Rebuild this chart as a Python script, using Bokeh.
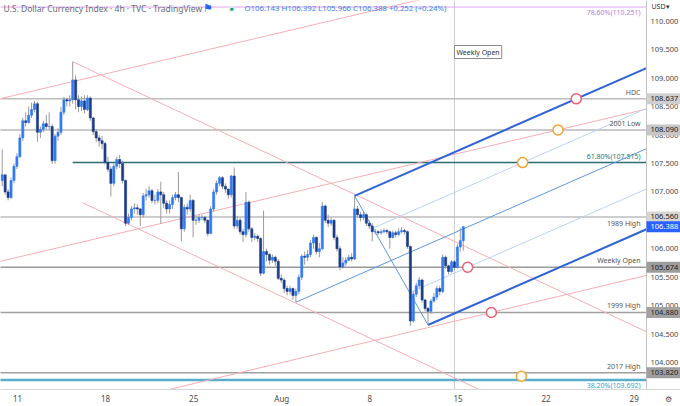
import numpy as np
from bokeh.plotting import figure
from bokeh.models import ColumnDataSource, Range1d, FixedTicker, Label, NumeralTickFormatter
from bokeh.embed import file_html
from bokeh.resources import INLINE
from bokeh.core.properties import value

# ---------------- data ----------------
first_open = 107.20
closes = [107.30, 107.00, 106.90, 107.20, 107.45, 107.62, 107.95, 108.25, 108.22, 108.35,
          108.45, 108.55, 108.05, 108.10, 108.20, 108.15, 108.15, 107.55, 107.98, 108.05,
          108.40, 108.62, 108.60, 108.62, 108.97, 108.62, 108.50, 108.60, 108.45, 108.65,
          108.30, 108.06, 107.95, 107.90, 107.85, 107.52, 107.40, 107.15, 107.45, 107.57,
          107.50, 107.20, 106.45, 106.55, 106.70, 106.72, 106.70, 106.60, 106.93, 106.95,
          107.02, 106.85, 106.85, 107.00, 106.95, 106.80, 106.70, 106.78, 106.90, 106.95,
          106.90, 106.35, 106.73, 106.70, 106.85, 106.50, 106.50, 106.55, 106.55, 106.50,
          106.27, 106.70, 107.00, 107.15, 107.25, 107.10, 107.05, 106.95, 107.28, 106.40,
          106.50, 106.30, 106.25, 106.82, 106.35, 106.20, 106.22, 106.18, 105.57, 105.95,
          105.90, 105.80, 105.85, 105.78, 105.48, 105.45, 105.30, 105.25, 105.30, 105.18,
          105.25, 105.50, 105.87, 105.85, 105.90, 106.10, 106.20, 105.95, 106.00, 106.75,
          106.50, 106.45, 106.50, 106.20, 106.00, 105.68, 105.75, 105.80, 105.85, 105.82,
          106.70, 106.60, 106.55, 106.60, 106.45, 106.40, 106.30, 106.30, 106.28, 106.30,
          106.32, 106.30, 106.20, 106.28, 106.25, 106.30, 106.32, 106.30, 106.04, 104.73,
          105.20, 105.35, 105.45, 105.10, 104.95, 104.90, 105.08, 105.15, 105.30, 105.25,
          105.85, 105.70, 105.60, 105.77, 105.674, 106.03, 106.143, 106.388]
highs = [107.75, 107.30, 107.05, 107.25, 107.50, 107.68, 108.02, 108.30, 108.40, 108.50,
         108.57, 108.60, 108.58, 108.15, 108.25, 108.35, 108.40, 108.20, 108.02, 108.12,
         108.50, 108.67, 108.66, 108.70, 109.29, 109.05, 108.70, 108.68, 108.70, 108.70,
         108.68, 108.32, 108.10, 108.00, 107.98, 107.88, 107.62, 107.45, 107.50, 107.62,
         107.65, 107.55, 107.22, 106.62, 106.75, 106.80, 106.78, 106.72, 106.98, 107.05,
         107.10, 107.05, 106.95, 107.05, 107.18, 107.00, 106.85, 106.85, 106.95, 107.00,
         107.35, 106.92, 106.78, 106.80, 106.95, 106.88, 106.58, 106.60, 106.60, 106.58,
         106.52, 106.75, 107.05, 107.20, 107.28, 107.28, 107.15, 107.05, 107.30, 107.43,
         106.58, 106.55, 106.35, 107.00, 106.85, 106.38, 106.28, 106.25, 106.20, 106.67,
         106.00, 105.92, 105.90, 105.88, 105.82, 105.55, 105.48, 105.35, 105.35, 105.32,
         105.30, 105.55, 105.90, 105.95, 105.98, 106.15, 106.25, 106.22, 106.10, 106.82,
         106.78, 106.60, 106.55, 106.52, 106.25, 106.05, 105.85, 105.85, 105.90, 105.92,
         106.93, 106.75, 106.65, 106.65, 106.62, 106.50, 106.45, 106.35, 106.33, 106.34,
         106.36, 106.35, 106.32, 106.32, 106.32, 106.36, 106.38, 106.35, 106.32, 106.06,
         105.25, 105.40, 105.50, 105.48, 105.12, 104.98, 105.12, 105.22, 105.35, 105.35,
         105.90, 105.88, 105.72, 105.80, 105.80, 106.08, 106.37, 106.392]
lows = [107.10, 106.95, 106.85, 106.88, 107.15, 107.40, 107.60, 107.90, 108.15, 108.20,
        108.30, 108.40, 107.88, 107.95, 108.05, 108.10, 108.10, 107.49, 107.50, 107.90,
        108.00, 108.35, 108.50, 108.50, 108.55, 108.45, 108.40, 108.42, 108.38, 108.42,
        108.25, 108.00, 107.87, 107.80, 107.75, 107.48, 107.35, 106.92, 107.10, 107.40,
        107.42, 107.15, 106.40, 106.42, 106.50, 106.62, 106.60, 106.40, 106.55, 106.85,
        106.90, 106.80, 106.78, 106.80, 106.44, 106.72, 106.62, 106.62, 106.70, 106.85,
        106.82, 106.13, 106.30, 106.60, 106.65, 106.20, 106.42, 106.45, 106.50, 106.45,
        106.22, 106.25, 106.65, 106.95, 107.10, 107.05, 106.98, 106.88, 106.90, 106.35,
        106.35, 106.25, 106.12, 106.20, 106.30, 106.12, 106.15, 106.12, 105.52, 105.55,
        105.78, 105.72, 105.75, 105.70, 105.45, 105.40, 105.22, 105.18, 105.20, 105.10,
        105.06, 105.20, 105.45, 105.72, 105.78, 105.85, 106.00, 105.90, 105.85, 105.98,
        106.45, 106.38, 106.40, 106.15, 105.95, 105.62, 105.65, 105.70, 105.78, 105.78,
        105.80, 106.55, 106.48, 106.50, 106.40, 106.35, 106.13, 106.25, 106.24, 106.25,
        106.27, 106.26, 106.00, 106.18, 106.20, 106.22, 106.27, 106.25, 106.00, 104.64,
        104.70, 105.15, 105.30, 105.05, 104.90, 104.66, 104.85, 105.05, 105.10, 105.18,
        105.22, 105.65, 105.55, 105.58, 105.62, 105.65, 105.95, 105.966]

first_bar_day = -0.867      # trading-day index of the first bar (Jul 11 = day 0)
bars_per_day = 6

day_ticks = [0, 5, 10, 15, 20, 25, 30, 35]
day_labels = ["11", "18", "25", "Aug", "8", "15", "22", "29"]
price_ticks = [104.0, 104.5, 105.0, 105.5, 106.0, 106.5, 107.0, 107.5, 108.0, 108.5, 109.0, 109.5, 110.0]

level_names = ["HDC", "2001 Low", "1989 High", "Weekly Open", "1999 High", "2017 High"]
level_values = [108.637, 108.090, 106.560, 105.674, 104.880, 103.820]
level_colors = ["#bdbdbd", "#b8b8b8", "#bdbdbd", "#9a9a9a", "#a0a0a0", "#a0a0a0"]
level_below = [False, False, True, False, False, False]

fib_names = ["78.60%(110.251)", "61.80%(107.515)", "38.20%(103.692)"]
fib_values = [110.251, 107.515, 103.692]
fib_line_colors = ["#dfa6ec", "#2e6e72", "#5aaecb"]
fib_text_colors = ["#c27bd6", "#2b7479", "#3aa0c8"]
fib_below = [True, False, True]

box_values = [108.637, 108.090, 106.560, 106.388, 105.674, 104.880, 103.820]
box_fill = ["#d0d0d0", "#c6c6c6", "#d6d6d6", "#2962ff", "#9c9c9c", "#a2a2a2", "#9e9e9e"]
box_text = ["#222222", "#222222", "#222222", "#ffffff", "#222222", "#222222", "#222222"]

fork_bars = [100, 120, 145]                  # handle, B, C pivots
fork_prices = [105.06, 106.93, 104.66]

pink_lines_x = [(-0.965, 21.74), (-0.965, 22.87), (9.08, 25.14), (3.133, 25.14), (3.69, 25.14)]
pink_lines_y = [(108.64, 110.30), (105.78, 107.52), (103.56, 104.75), (109.29, 106.08), (106.81, 103.68)]
pink_extend_left = [True, True, True, False, False]

weekly_open_bar = 154
extra_circle_x = [28.60]
extra_circle_y = [103.76]

header = "U.S. Dollar Currency Index \u00b7 4h \u00b7 TVC \u00b7 TradingView"
ohlc_text = "O106.143 H106.392 L105.966 C106.388 +0.252 (+0.24%)"

# ---------------- figure ----------------
W, H = 680, 406
FH = 392.0
X0, X1 = -0.965, 35.70            # plotting area (price scale starts at X1)
dx = (X1 - X0) / 646.0
XE = X1 + 34 * dx                 # right end including price scale strip
Y0, Y1 = 103.525, 110.366
dy = (Y1 - Y0) / FH
FONT = "Noto Sans"

p = figure(width=W, height=H, x_range=Range1d(X0, XE), y_range=Range1d(Y0, Y1),
           output_backend="svg", toolbar_location=None, y_axis_location="right",
           min_border=0, min_border_left=0, min_border_top=0, min_border_right=0, min_border_bottom=14)
p.grid.visible = False
p.outline_line_color = None
p.background_fill_color = "white"
p.border_fill_color = "white"

ya = p.yaxis[0]
ya.fixed_location = X1
ya.ticker = FixedTicker(ticks=price_ticks)
ya.formatter = NumeralTickFormatter(format="0.000")
ya.major_tick_line_color = None
ya.minor_tick_line_color = None
ya.major_tick_out = 0
ya.major_tick_in = 0
ya.minor_tick_out = 0
ya.minor_tick_in = 0
ya.axis_line_color = "#c4c4c4"
ya.major_label_standoff = 4
ya.major_label_text_font_size = "7.5px"
ya.major_label_text_font = FONT
ya.major_label_text_color = "#4a4a4a"

gear_tick = X1 + 22 * dx
xa = p.xaxis[0]
xa.ticker = FixedTicker(ticks=day_ticks + [gear_tick])
overrides = {t: l for t, l in zip(day_ticks, day_labels)}
overrides[gear_tick] = "\u2699"
xa.major_label_overrides = overrides
xa.major_tick_line_color = None
xa.minor_tick_line_color = None
xa.major_tick_out = 0
xa.major_tick_in = 0
xa.minor_tick_out = 0
xa.minor_tick_in = 0
xa.axis_line_color = "#d6d6d6"
xa.major_label_standoff = 3
xa.major_label_text_font_size = "8px"
xa.major_label_text_font = FONT
xa.major_label_text_color = "#4a4a4a"

XR = X1

# weekly open vertical line
bar_x = first_bar_day + np.arange(len(closes)) / bars_per_day
wk_x = bar_x[weekly_open_bar]
p.segment(x0=[wk_x], y0=[Y0 - 1], x1=[wk_x], y1=[Y1 + 1], line_color="#cfcfcf", line_width=1)

# fib lines
fib_x0 = [X0 - 1, bar_x[24], X0 - 1]
fib_widths = [1, 1.5, 2.5]
for fx_, fv, fc, fw in zip(fib_x0, fib_values, fib_line_colors, fib_widths):
    p.line([fx_, XR], [fv, fv], line_color=fc, line_width=fw)

# horizontal levels
for lv, lc in zip(level_values, level_colors):
    p.line([X0 - 1, XR], [lv, lv], line_color=lc, line_width=1.5)

# pink trend channel lines
for (xa_, xb_), (ya_, yb_), ext in zip(pink_lines_x, pink_lines_y, pink_extend_left):
    s = (yb_ - ya_) / (xb_ - xa_)
    xs = X0 - 2 if ext else xa_
    p.line([xs, XR], [ya_ + s * (xs - xa_), ya_ + s * (XR - xa_)], line_color="#f7aeb4", line_width=1)

# pitchfork
fx = [bar_x[b] for b in fork_bars]
A = (fx[0], fork_prices[0]); B = (fx[1], fork_prices[1]); C = (fx[2], fork_prices[2])
M = ((B[0] + C[0]) / 2, (B[1] + C[1]) / 2)
slope = (M[1] - A[1]) / (M[0] - A[0])
UM = ((B[0] + M[0]) / 2, (B[1] + M[1]) / 2)
LM = ((M[0] + C[0]) / 2, (M[1] + C[1]) / 2)

def ray(pt):
    return [pt[0], XR], [pt[1], pt[1] + slope * (XR - pt[0])]

for pt in (UM, LM):
    xs, ys = ray(pt)
    p.line(xs, ys, line_color="#b9d4f6", line_width=1)
xs, ys = ray(A)
p.line(xs, ys, line_color="#5d97df", line_width=1)
p.line([B[0], C[0]], [B[1], C[1]], line_color="#5d97df", line_width=1)
for pt in (B, C):
    xs, ys = ray(pt)
    p.line(xs, ys, line_color="#2f64d6", line_width=2)

# candles
opens = [first_open] + closes[:-1]
o = np.array(opens); c = np.array(closes)
up = c >= o
src = ColumnDataSource(dict(x=bar_x, o=o, c=c, h=np.array(highs), l=np.array(lows),
                            top=np.maximum(o, c), bot=np.minimum(o, c),
                            col=np.where(up, "#2f7bf5", "#1d3c88")))
p.segment(x0="x", y0="h", x1="x", y1="l", source=src, line_color="#9a9a9a", line_width=1)
p.vbar(x="x", width=0.12, top="top", bottom="bot", source=src,
       fill_color="col", line_color="col", line_width=0.6)

# circles at intersections
def hit(pt, level, s):
    return pt[0] + (level - pt[1]) / s

r2 = pink_lines_x[1], pink_lines_y[1]
r2s = (r2[1][1] - r2[1][0]) / (r2[0][1] - r2[0][0])
r3 = pink_lines_x[2], pink_lines_y[2]
r3s = (r3[1][1] - r3[1][0]) / (r3[0][1] - r3[0][0])
red_x = [hit(B, level_values[0], slope), hit(LM, level_values[3], slope),
         hit((r3[0][0], r3[1][0]), level_values[4], r3s)]
red_y = [level_values[0], level_values[3], level_values[4]]
org_x = [hit((r2[0][0], r2[1][0]), level_values[1], r2s), hit(UM, fib_values[1], slope)] + extra_circle_x
org_y = [level_values[1], fib_values[1]] + extra_circle_y
p.scatter(red_x, red_y, size=10, marker="circle", fill_color="white", line_color="#ef5f72", line_width=1.5)
p.scatter(org_x, org_y, size=10, marker="circle", fill_color="white", line_color="#f5a532", line_width=1.5)

# level texts
ab = [i for i, b in enumerate(level_below) if not b]
be = [i for i, b in enumerate(level_below) if b]
p.text(x=[X1] * len(ab), y=[level_values[i] for i in ab], text=[level_names[i] for i in ab],
       text_align="right", text_baseline="bottom", x_offset=-6, y_offset=-2,
       text_font_size="7px", text_color="#555555", text_font=value(FONT))
p.text(x=[X1] * len(be), y=[level_values[i] for i in be], text=[level_names[i] for i in be],
       text_align="right", text_baseline="top", x_offset=-6, y_offset=2,
       text_font_size="7px", text_color="#555555", text_font=value(FONT))
for fn, fv, fc, fb in zip(fib_names, fib_values, fib_text_colors, fib_below):
    p.text(x=[X1], y=[fv], text=[fn], text_align="right",
           text_baseline="top" if fb else "bottom", x_offset=-6, y_offset=1 if fb else -2,
           text_font_size="7px", text_color=fc, text_font=value(FONT))

# weekly open tag
p.add_layout(Label(x=wk_x, y=109.46, text="Weekly Open", text_align="left", text_baseline="middle",
                   text_font_size="7px", text_font=FONT, text_color="#333333",
                   background_fill_color="white", border_line_color="#8a8a8a", padding=2))

# header
hy = Y1 - 8 * dy
p.add_layout(Label(x=X0 + 3 * dx, y=hy, text=header, text_baseline="middle",
                   text_font_size="8.5px", text_font=FONT, text_color="#6a6d78"))
p.add_layout(Label(x=X0 + 202 * dx, y=hy, text="\u2691", text_baseline="middle",
                   text_font_size="11px", text_color="#2962ff"))
p.add_layout(Label(x=X0 + 231 * dx, y=hy, text="\u25cf", text_baseline="middle", text_align="center",
                   text_font_size="14px", text_color="#d9efe9"))
p.add_layout(Label(x=X0 + 231 * dx, y=hy, text="\u25cf", text_baseline="middle", text_align="center",
                   text_font_size="7px", text_color="#089981"))
p.add_layout(Label(x=X0 + 244 * dx, y=hy, text=ohlc_text, text_baseline="middle",
                   text_font_size="7.8px", text_font=FONT, text_color="#3d7fe6"))

# right price scale tags (drawn above the axis labels)
bx = (X1 + XE) / 2
p.rect(x=[bx] * len(box_values), y=box_values, width=XE - X1, height=11 * dy,
       fill_color=box_fill, line_color=None, level="overlay")
p.text(x=[X1] * len(box_values), y=box_values, text=[f"{v:.3f}" for v in box_values],
       text_align="left", text_baseline="middle", x_offset=4, text_font_size="7.5px",
       text_color=box_text, text_font=value(FONT), level="overlay")
p.text(x=[X1], y=[Y1 - 6 * dy], text=["USD\u25be"], text_align="left", text_baseline="middle",
       x_offset=5, text_font_size="7px", text_color="#333333", text_font=value(FONT))

open("out.html", "w").write(file_html(p, INLINE))
